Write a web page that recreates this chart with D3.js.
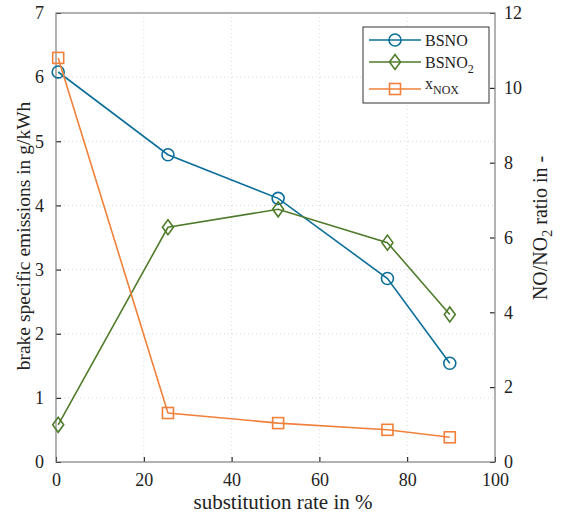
<!DOCTYPE html>
<html>
<head>
<meta charset="UTF-8">
<script src="https://cdn.jsdelivr.net/npm/d3@7"></script>
<style>
    body{margin:0;background:#fff;}
    svg text{font-family:"Liberation Serif","Times New Roman",Times,"DejaVu Serif",serif !important;fill:#222;}
</style>
</head>
<body>
<script>
    // substitution rate (%)
    var rate=[0.5,25.5,50.6,75.5,89.7];
    var bsno=[6.08,4.79,4.11,2.86,1.54];
    var bsno2=[0.58,3.66,3.94,3.42,2.30];
    var xnox=[10.8,1.31,1.04,0.86,0.66];
    var xTicks=[0,20,40,60,80,100];
    var yLeftTicks=[0,1,2,3,4,5,6,7];
    var yRightTicks=[0,2,4,6,8,10,12];

    var W=564,H=517;
    var L=56,R=495,T=13,B=462;
    var svg=d3.select("body").append("svg").attr("width",W).attr("height",H);

    var x=d3.scaleLinear().domain([0,100]).range([L,R]);
    var yl=d3.scaleLinear().domain([0,7]).range([B,T]);
    var yr=d3.scaleLinear().domain([0,12]).range([B,T]);

    // grid
    var grid=svg.append("g").attr("stroke","#d8d8d8").attr("stroke-dasharray","1,3").attr("stroke-width",1);
    xTicks.slice(1,-1).forEach(function(t){
        grid.append("line").attr("x1",x(t)).attr("x2",x(t)).attr("y1",T).attr("y2",B);
    });
    yLeftTicks.slice(1,-1).forEach(function(t){
        grid.append("line").attr("x1",L).attr("x2",R).attr("y1",yl(t)).attr("y2",yl(t));
    });

    // axes
    function styleAxis(g){
        g.attr("font-family",null).attr("font-size",null);
        g.select(".domain").remove();
        g.selectAll(".tick line").attr("stroke","#000");
        g.selectAll(".tick text").style("font-size","18px");
    }
    svg.append("g").attr("transform","translate(0,"+B+")")
        .call(d3.axisBottom(x).tickValues(xTicks).tickSize(-5).tickPadding(11).tickFormat(d3.format("d")))
        .call(styleAxis);
    svg.append("g").attr("transform","translate("+L+",0)")
        .call(d3.axisLeft(yl).tickValues(yLeftTicks).tickSize(-5).tickPadding(12).tickFormat(d3.format("d")))
        .call(styleAxis);
    svg.append("g").attr("transform","translate("+R+",0)")
        .call(d3.axisRight(yr).tickValues(yRightTicks).tickSize(-5).tickPadding(9).tickFormat(d3.format("d")))
        .call(styleAxis);

    // box
    svg.append("rect").attr("x",L).attr("y",T).attr("width",R-L).attr("height",B-T)
        .attr("fill","none").attr("stroke","#7f7f7f").attr("stroke-width",1.2);

    var cBlue="#0b6f99",cGreen="#4f7b2b",cOrange="#f0803a";

    function drawSeries(vals,ys,color,marker){
        var pts=rate.map(function(r,i){return [x(r),ys(vals[i])];});
        svg.append("path").attr("d",d3.line()(pts))
            .attr("fill","none").attr("stroke",color).attr("stroke-width",1.6);
        pts.forEach(function(p){drawMarker(p[0],p[1],color,marker);});
    }
    function drawMarker(cx,cy,color,marker){
        if(marker=="circle"){
            svg.append("circle").attr("cx",cx).attr("cy",cy).attr("r",6)
                .attr("fill","none").attr("stroke",color).attr("stroke-width",1.6);
        }else if(marker=="diamond"){
            svg.append("path").attr("d","M"+cx+","+(cy-7.5)+"L"+(cx+5.5)+","+cy+"L"+cx+","+(cy+7.5)+"L"+(cx-5.5)+","+cy+"Z")
                .attr("fill","none").attr("stroke",color).attr("stroke-width",1.6);
        }else{
            svg.append("rect").attr("x",cx-5.5).attr("y",cy-5.5).attr("width",11).attr("height",11)
                .attr("fill","none").attr("stroke",color).attr("stroke-width",1.6);
        }
    }
    drawSeries(bsno,yl,cBlue,"circle");
    drawSeries(bsno2,yl,cGreen,"diamond");
    drawSeries(xnox,yr,cOrange,"square");

    // legend
    var lg=svg.append("g");
    lg.append("rect").attr("x",363).attr("y",27).attr("width",126).attr("height",76)
        .attr("fill","#fff").attr("stroke","#333").attr("stroke-width",1);
    var items=[{c:cBlue,m:"circle",y:40},{c:cGreen,m:"diamond",y:62},{c:cOrange,m:"square",y:89}];
    items.forEach(function(it){
        lg.append("line").attr("x1",369).attr("x2",421).attr("y1",it.y).attr("y2",it.y)
            .attr("stroke",it.c).attr("stroke-width",1.6);
        drawMarker(395,it.y,it.c,it.m);
    });
    lg.append("text").attr("x",425).attr("y",46).style("font-size","16px").text("BSNO");
    var t2=lg.append("text").attr("x",425).attr("y",68).style("font-size","16px");
    t2.append("tspan").text("BSNO");
    t2.append("tspan").attr("dy",5).style("font-size","12px").text("2");
    var t3=lg.append("text").attr("x",425).attr("y",89).style("font-size","16px");
    t3.append("tspan").text("x");
    t3.append("tspan").attr("dy",5).style("font-size","12px").text("NOX");

    // axis labels
    svg.append("text").attr("x",283).attr("y",509).attr("text-anchor","middle")
        .style("font-size","21px").text("substitution rate in %");
    svg.append("text").attr("transform","translate(30,236) rotate(-90)")
        .attr("text-anchor","middle").style("font-size","19.5px").text("brake specific emissions in g/kWh");
    var rl=svg.append("text").attr("transform","translate(547,228) rotate(-90)")
        .attr("text-anchor","middle").style("font-size","20px");
    rl.append("tspan").text("NO/NO");
    rl.append("tspan").attr("dy",5).style("font-size","14px").text("2");
    rl.append("tspan").attr("dy",-5).text(" ratio in -");
</script>
</body>
</html>
